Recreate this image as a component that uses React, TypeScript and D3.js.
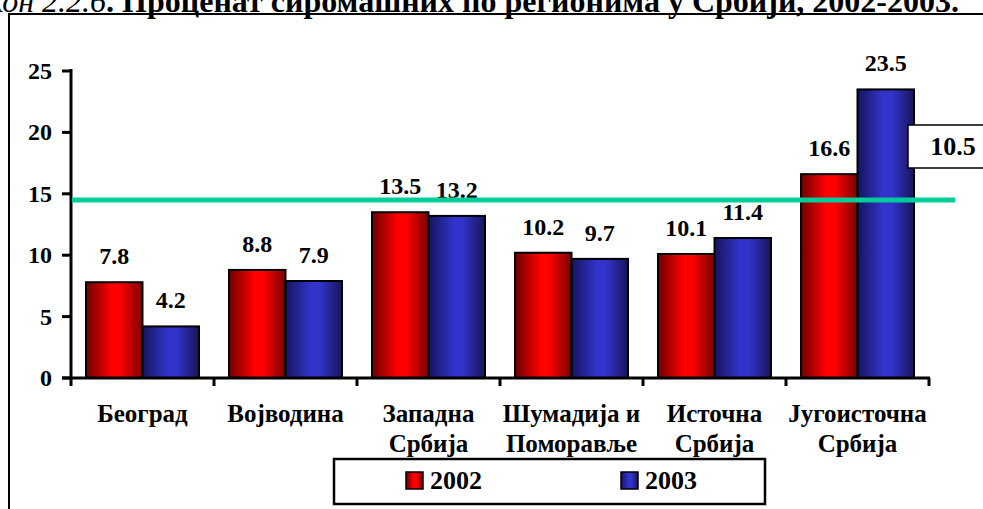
import React from "react";
import * as d3 from "d3";

const categories: string[][] = [
  ["Београд"],
  ["Војводина"],
  ["Западна", "Србија"],
  ["Шумадија и", "Поморавље"],
  ["Источна", "Србија"],
  ["Југоисточна", "Србија"],
];
const values2002 = [7.8, 8.8, 13.5, 10.2, 10.1, 16.6];
const values2003 = [4.2, 7.9, 13.2, 9.7, 11.4, 23.5];
const seriesNames = ["2002", "2003"];
const yTicks = [0, 5, 10, 15, 20, 25];
const refLineValue = 14.5;
const boxValue = "10.5";
const titleItalic = "Графикон 2.2.6";
const titleBold = ". Проценат сиромашних по регионима у Србији, 2002-2003.";

const W = 983;
const H = 509;
const FONT = "'Liberation Serif', 'Times New Roman', serif";

export default function App() {
  const x0 = 71, x1 = 929, yTop = 71, yBot = 378;
  const band = d3.scaleBand<number>().domain(d3.range(categories.length)).range([x0, x1]).padding(0);
  const y = d3.scaleLinear().domain([0, 25]).range([yBot, yTop]);
  const pad = 15;
  const barW = (band.bandwidth() - 2 * pad) / 2;
  const series = [values2002, values2003];
  const fills = ["url(#gRed)", "url(#gBlue)"];
  const ts = { fontFamily: FONT };

  return (
    <svg width={W} height={H} style={{ position: "absolute", left: 0, top: 0, background: "#fff", fontFamily: FONT }}>
      <defs>
        <linearGradient id="gRed" x1="0" x2="1" y1="0" y2="0">
          <stop offset="0" stopColor="#6e0000" />
          <stop offset="0.45" stopColor="#ff0000" />
          <stop offset="0.6" stopColor="#ff0000" />
          <stop offset="1" stopColor="#7a0000" />
        </linearGradient>
        <linearGradient id="gBlue" x1="0" x2="1" y1="0" y2="0">
          <stop offset="0" stopColor="#15155e" />
          <stop offset="0.45" stopColor="#3333cc" />
          <stop offset="0.6" stopColor="#3333cc" />
          <stop offset="1" stopColor="#16165a" />
        </linearGradient>
      </defs>

      {/* title */}
      <text x={959} y={12} textAnchor="end" fontSize={32} fill="#000" style={ts}>
        <tspan fontStyle="italic">{titleItalic}</tspan>
        <tspan fontWeight="bold">{titleBold}</tspan>
      </text>

      {/* outer frame */}
      <rect x={9} y={14} width={W + 20} height={H + 20} fill="none" stroke="#000" strokeWidth={2} />

      {/* bars */}
      {categories.map((_, i) =>
        series.map((vals, s) => {
          const bx = (band(i) as number) + pad + s * barW;
          return (
            <rect key={`b${i}-${s}`} x={bx} y={y(vals[i])} width={barW} height={yBot - y(vals[i])}
              fill={fills[s]} stroke="#000" strokeWidth={2} />
          );
        })
      )}

      {/* value labels */}
      {categories.map((_, i) =>
        series.map((vals, s) => {
          const cx = (band(i) as number) + pad + s * barW + barW / 2;
          return (
            <text key={`l${i}-${s}`} x={cx} y={y(vals[i]) - 18} textAnchor="middle" fontWeight="bold" fontSize={24} style={ts}>
              {vals[i].toFixed(1)}
            </text>
          );
        })
      )}

      {/* y axis */}
      <line x1={x0} x2={x0} y1={yTop - 2} y2={yBot + 2} stroke="#000" strokeWidth={3} />
      {yTicks.map((t) => (
        <g key={`yt${t}`}>
          <line x1={x0 - 9} x2={x0} y1={y(t)} y2={y(t)} stroke="#000" strokeWidth={3} />
          <text x={52} y={y(t) + 8} textAnchor="end" fontWeight="bold" fontSize={24} style={ts}>{t}</text>
        </g>
      ))}

      {/* x axis */}
      <line x1={x0 - 9} x2={x1 + 1} y1={yBot} y2={yBot} stroke="#000" strokeWidth={3} />
      {d3.range(categories.length + 1).map((i) => {
        const tx = i < categories.length ? (band(i) as number) : x1;
        return <line key={`xt${i}`} x1={tx} x2={tx} y1={yBot} y2={yBot + 8} stroke="#000" strokeWidth={3} />;
      })}
      {categories.map((lines, i) => (
        <text key={`c${i}`} x={(band(i) as number) + band.bandwidth() / 2} y={422} textAnchor="middle" fontWeight="bold" fontSize={25} style={ts}>
          {lines.map((ln, k) => (
            <tspan key={k} x={(band(i) as number) + band.bandwidth() / 2} dy={k === 0 ? 0 : 30}>{ln}</tspan>
          ))}
        </text>
      ))}

      {/* reference line */}
      <line x1={x0 + 1} x2={955} y1={y(refLineValue)} y2={y(refLineValue)} stroke="#00cc99" strokeWidth={5} />

      {/* value box */}
      <rect x={908} y={125} width={100} height={43} fill="#fff" stroke="#000" strokeWidth={1.5} />
      <text x={953} y={155} textAnchor="middle" fontWeight="bold" fontSize={26} style={ts}>{boxValue}</text>

      {/* legend */}
      <rect x={334} y={459} width={431} height={45} fill="#fff" stroke="#000" strokeWidth={2.5} />
      {seriesNames.map((nm, s) => {
        const lx = s === 0 ? 406 : 621;
        return (
          <g key={`lg${s}`}>
            <rect x={lx} y={472} width={17} height={17} fill={fills[s]} stroke="#000" strokeWidth={1.5} />
            <text x={lx + 24} y={489} fontWeight="bold" fontSize={26} style={ts}>{nm}</text>
          </g>
        );
      })}
    </svg>
  );
}
